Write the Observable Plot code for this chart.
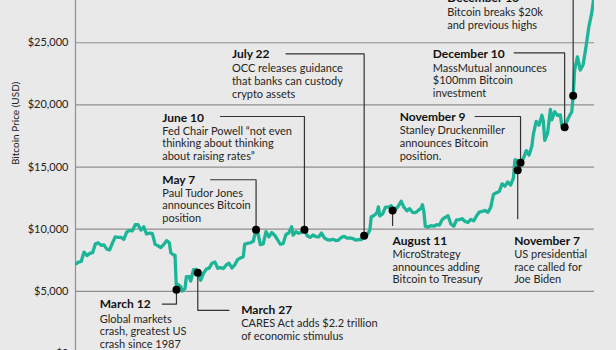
<!DOCTYPE html>
<html><head><meta charset="utf-8">
<script src="https://cdn.jsdelivr.net/npm/d3@7"></script>
<script src="https://cdn.jsdelivr.net/npm/@observablehq/plot@0.6"></script>
<style>
html,body{margin:0;padding:0;background:#e9e9e9;overflow:hidden;width:616px;height:350px;}
</style></head><body><div id="chart"></div>
<script>
// ---- data ----
const dates = ["2020-01-01","2020-01-03","2020-01-05","2020-01-07","2020-01-09","2020-01-11","2020-01-13","2020-01-15","2020-01-17","2020-01-19","2020-01-21","2020-01-23","2020-01-25","2020-01-27","2020-01-29","2020-01-31",
"2020-02-02","2020-02-04","2020-02-06","2020-02-08","2020-02-10","2020-02-12","2020-02-14","2020-02-16","2020-02-18","2020-02-20","2020-02-22","2020-02-24","2020-02-26","2020-02-28",
"2020-03-01","2020-03-03","2020-03-05","2020-03-07","2020-03-08","2020-03-10","2020-03-11","2020-03-12","2020-03-13","2020-03-15","2020-03-16","2020-03-18","2020-03-19","2020-03-21","2020-03-22","2020-03-24","2020-03-26","2020-03-27","2020-03-29","2020-03-31",
"2020-04-02","2020-04-04","2020-04-06","2020-04-08","2020-04-10","2020-04-12","2020-04-14","2020-04-16","2020-04-18","2020-04-20","2020-04-22","2020-04-24","2020-04-26","2020-04-28","2020-04-29",
"2020-05-01","2020-05-03","2020-05-05","2020-05-07","2020-05-08","2020-05-10","2020-05-12","2020-05-14","2020-05-16","2020-05-18","2020-05-20","2020-05-22","2020-05-24","2020-05-26","2020-05-28","2020-05-30",
"2020-06-01","2020-06-02","2020-06-04","2020-06-06","2020-06-08","2020-06-10","2020-06-12","2020-06-14","2020-06-16","2020-06-18","2020-06-20","2020-06-22","2020-06-24","2020-06-26","2020-06-28","2020-06-30",
"2020-07-02","2020-07-04","2020-07-06","2020-07-08","2020-07-10","2020-07-12","2020-07-14","2020-07-16","2020-07-18","2020-07-20","2020-07-22","2020-07-24","2020-07-26","2020-07-27","2020-07-29","2020-07-31",
"2020-08-01","2020-08-02","2020-08-04","2020-08-06","2020-08-08","2020-08-10","2020-08-11","2020-08-13","2020-08-15","2020-08-17","2020-08-19","2020-08-21","2020-08-23","2020-08-25","2020-08-27","2020-08-29","2020-08-31",
"2020-09-01","2020-09-02","2020-09-03","2020-09-05","2020-09-07","2020-09-09","2020-09-11","2020-09-13","2020-09-15","2020-09-17","2020-09-19","2020-09-21","2020-09-23","2020-09-25","2020-09-27","2020-09-29",
"2020-10-01","2020-10-03","2020-10-05","2020-10-07","2020-10-09","2020-10-11","2020-10-13","2020-10-15","2020-10-17","2020-10-19","2020-10-21","2020-10-23","2020-10-25","2020-10-27","2020-10-29","2020-10-31",
"2020-11-02","2020-11-04","2020-11-05","2020-11-06","2020-11-07","2020-11-08","2020-11-09","2020-11-11","2020-11-13","2020-11-15","2020-11-17","2020-11-18","2020-11-20","2020-11-22","2020-11-24","2020-11-25","2020-11-26","2020-11-28","2020-11-30",
"2020-12-01","2020-12-03","2020-12-05","2020-12-07","2020-12-08","2020-12-10","2020-12-12","2020-12-14","2020-12-15","2020-12-16","2020-12-17","2020-12-19","2020-12-21","2020-12-23","2020-12-25","2020-12-27","2020-12-29","2020-12-31"];
const prices = [7200,7340,7410,8160,7880,8050,8110,8820,8900,8700,8740,8400,8330,8900,9390,9350,
9340,9180,9760,9910,9860,10370,10360,9930,10190,9610,9690,9660,8780,8670,
8530,8760,9080,8900,8110,7920,7910,5000,5560,5390,5020,5230,6190,6190,5830,6740,6760,6470,5880,6440,
6790,6870,7270,7370,6860,6910,6840,7120,7260,6880,7130,7550,7680,7790,8800,
8860,8910,9030,9960,9840,8760,8820,9800,9380,9730,9520,9170,8790,8840,9580,9700,
10200,9520,9790,9670,9760,9960,9470,9340,9530,9410,9380,9690,9310,9160,9120,9190,
9090,9130,9340,9430,9280,9300,9250,9130,9170,9160,9480,9550,9930,11000,11110,11320,
11800,11070,11230,11780,11770,11880,11510,11580,11860,12250,11760,11480,11650,11360,11330,11510,11680,
11970,11410,10240,10170,10280,10240,10360,10330,10790,10950,11080,10420,10240,10750,10770,10840,
10620,10550,10790,10670,11060,11380,11430,11510,11360,11750,12820,12930,13030,13650,13460,13800,
13550,14130,15580,15570,14750,15480,15350,15700,16320,15960,16720,17650,18680,18370,19170,18720,17150,17730,19630,
18800,19450,19150,19190,18320,18210,18800,19250,19440,20730,22800,23870,22800,23240,24660,26270,27360,29000];

const eventDates  = ["2020-03-12","2020-03-27","2020-05-07","2020-06-10","2020-07-22","2020-08-11","2020-11-07","2020-11-09","2020-12-10","2020-12-16"];
const eventPrices = [5137,6504,9960,9960,9478,11512,14752,15347,18208,20732];
const eventTitles = ["March 12","March 27","May 7","June 10","July 22","August 11","November 7","November 9","December 10","December 16"];
const eventTexts  = [
  "Global markets\ncrash, greatest US\ncrash since 1987",
  "CARES Act adds $2.2 trillion\nof economic stimulus",
  "Paul Tudor Jones\nannounces Bitcoin\nposition",
  "Fed Chair Powell \u201cnot even\nthinking about thinking\nabout raising rates\u201d",
  "OCC releases guidance\nthat banks can custody\ncrypto assets",
  "MicroStrategy\nannounces adding\nBitcoin to Treasury",
  "US presidential\nrace called for\nJoe Biden",
  "Stanley Druckenmiller\nannounces Bitcoin\nposition.",
  "MassMutual announces\n$100mm Bitcoin\ninvestment",
  "Bitcoin breaks $20k\nand previous highs"
];
const yTicks = [0, 5000, 10000, 15000, 20000, 25000];
const yLabel = "Bitcoin Price (USD)";

// ---- annotation layout (data units) ----
const labelDates   = ["2020-01-18","2020-04-26T12:00","2020-03-02","2020-03-02","2020-04-20","2020-08-11","2020-11-04T12:00","2020-08-16","2020-09-08T06:00","2020-09-18T10:00"];
const titlePrices  = [3955,3473,13980,18964,24109,9044,9044,19012,24109,28555];
const bodyPrices   = [1793,1929,11914,16922,21930,6978,6978,16946,21995,26959];
const leaderDates  = ["2020-03-02","2020-04-18","2020-04-05","2020-04-12","2020-05-28","2020-08-11","2020-11-07","2020-10-08","2020-11-04T12:00","2020-12-16"];
const leaderPrices = [3980,3473,13980,19069,24109,10306,10845,19069,24190,28700];

// ---- build tables ----
const series = dates.map((d, i) => ({date: new Date(d), price: prices[i]}));
const events = eventDates.map((d, i) => ({
  date: new Date(d), price: eventPrices[i], title: eventTitles[i], text: eventTexts[i],
  labelDate: new Date(labelDates[i]), titlePrice: titlePrices[i], bodyPrice: bodyPrices[i]
}));
const leaders = eventDates.flatMap((d, i) => [
  {id: i, date: new Date(leaderDates[i]), price: leaderPrices[i]},
  {id: i, date: new Date(d), price: leaderPrices[i]},
  {id: i, date: new Date(d), price: eventPrices[i]}
]);

const fmt = d3.format(",");
const chart = Plot.plot({
  width: 616,
  height: 370,
  marginLeft: 75,
  marginRight: 22,
  marginTop: 0,
  marginBottom: 17,
  style: {background: "#e9e9e9", fontFamily: "Lato, 'Open Sans', sans-serif", color: "#222"},
  x: {type: "utc", domain: [new Date("2020-01-01"), new Date("2020-12-31")], axis: null},
  y: {domain: [0, 28400], axis: null},
  marks: [
    Plot.gridY(yTicks, {stroke: "#8f8f8f", strokeOpacity: 1, strokeWidth: 1.2}),
    Plot.frame({anchor: "left", stroke: "#8f8f8f", strokeWidth: 1.2}),
    Plot.axisY(yTicks, {tickSize: 0, tickPadding: 7, fontSize: 11, tickFormat: d => "$" + fmt(d), label: null, fill: "#222"}),
    Plot.text([yLabel], {frameAnchor: "left", dx: -60, dy: -12, rotate: -90, fontSize: 10, fill: "#222"}),
    Plot.line(series, {x: "date", y: "price", stroke: "#1db598", strokeWidth: 3.3, strokeLinejoin: "round", clip: true}),
    Plot.line(leaders, {x: "date", y: "price", z: "id", stroke: "#333", strokeWidth: 1.2}),
    Plot.dot(events, {x: "date", y: "price", r: 4, fill: "#000"}),
    Plot.text(events, {x: "labelDate", y: "titlePrice", text: "title", textAnchor: "start", lineAnchor: "middle", fontSize: 12, fontWeight: "bold", fill: "#111"}),
    Plot.text(events, {x: "labelDate", y: "bodyPrice", text: "text", textAnchor: "start", lineAnchor: "middle", fontSize: 11, lineHeight: 1.15, fill: "#262626"})
  ]
});
document.getElementById("chart").appendChild(chart);
</script>
</body></html>
